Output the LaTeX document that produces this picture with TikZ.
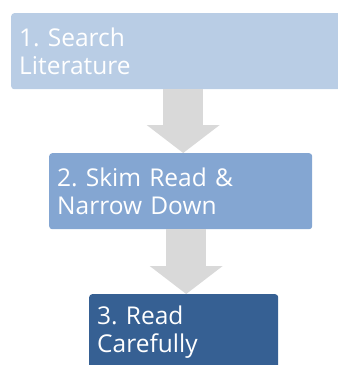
\documentclass[tikz,border=0pt]{standalone}
\usepackage{fontspec}
\setmainfont{Open Sans}
\usetikzlibrary{positioning}
\usetikzlibrary{arrows.meta}
\definecolor{stepone}{HTML}{B9CDE5}
\definecolor{steptwo}{HTML}{84A6D2}
\definecolor{stepthree}{HTML}{366093}
\definecolor{arrowgray}{HTML}{D9D9D9}
\frenchspacing
\begin{document}
\begin{tikzpicture}[
        x=1bp, y=-1bp,
        stepbox/.style={rectangle, rounded corners=3bp, anchor=north west,
            text=white, align=left, inner xsep=8bp, inner ysep=0pt,
            minimum height=76bp, font=\fontsize{24.5bp}{27.5bp}\selectfont},
        flow/.style={line width=40bp, arrowgray,
            -{Triangle[width=73bp, length=28bp, line width=0pt]}}]
        
        \useasboundingbox (0,0) rectangle (338,365);
        \clip (0,0) rectangle (338,365);
        
        \node[stepbox, fill=stepone, text width=344bp] (S) at (11,13) {1. Search\\Literature};
        \node[stepbox, fill=steptwo, text width=247bp] (N) at (49,153) {2. Skim Read \&\\Narrow Down};
        \node[stepbox, fill=stepthree, text width=173bp] (R) at (89,294) {3. Read\\Carefully};
        
        \draw[flow] ([xshift=2.5bp]N.north |- S.south) -- ([xshift=2.5bp]N.north);
        \draw[flow] ([xshift=2.5bp]R.north |- N.south) -- ([xshift=2.5bp]R.north);
        
    \end{tikzpicture}
\end{document}
